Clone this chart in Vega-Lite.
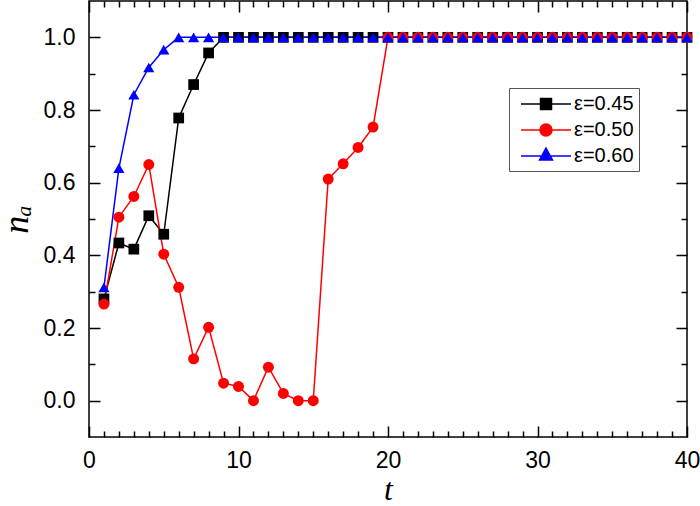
{
  "$schema": "https://vega.github.io/schema/vega-lite/v6.json",
  "width": 598,
  "height": 436,
  "autosize": {"type": "none"},
  "padding": {"left": 89, "top": 1, "right": 13, "bottom": 69},
  "config": {
    "view": {"stroke": "black", "strokeWidth": 1.5}
  },
  "data": {
    "values": [
      {"t": 1, "eps": "ε=0.45", "na": 0.28},
      {"t": 2, "eps": "ε=0.45", "na": 0.434},
      {"t": 3, "eps": "ε=0.45", "na": 0.417},
      {"t": 4, "eps": "ε=0.45", "na": 0.509},
      {"t": 5, "eps": "ε=0.45", "na": 0.458},
      {"t": 6, "eps": "ε=0.45", "na": 0.778},
      {"t": 7, "eps": "ε=0.45", "na": 0.87},
      {"t": 8, "eps": "ε=0.45", "na": 0.957},
      {"t": 9, "eps": "ε=0.45", "na": 1.0},
      {"t": 10, "eps": "ε=0.45", "na": 1.0},
      {"t": 11, "eps": "ε=0.45", "na": 1.0},
      {"t": 12, "eps": "ε=0.45", "na": 1.0},
      {"t": 13, "eps": "ε=0.45", "na": 1.0},
      {"t": 14, "eps": "ε=0.45", "na": 1.0},
      {"t": 15, "eps": "ε=0.45", "na": 1.0},
      {"t": 16, "eps": "ε=0.45", "na": 1.0},
      {"t": 17, "eps": "ε=0.45", "na": 1.0},
      {"t": 18, "eps": "ε=0.45", "na": 1.0},
      {"t": 19, "eps": "ε=0.45", "na": 1.0},
      {"t": 20, "eps": "ε=0.45", "na": 1.0},
      {"t": 21, "eps": "ε=0.45", "na": 1.0},
      {"t": 22, "eps": "ε=0.45", "na": 1.0},
      {"t": 23, "eps": "ε=0.45", "na": 1.0},
      {"t": 24, "eps": "ε=0.45", "na": 1.0},
      {"t": 25, "eps": "ε=0.45", "na": 1.0},
      {"t": 26, "eps": "ε=0.45", "na": 1.0},
      {"t": 27, "eps": "ε=0.45", "na": 1.0},
      {"t": 28, "eps": "ε=0.45", "na": 1.0},
      {"t": 29, "eps": "ε=0.45", "na": 1.0},
      {"t": 30, "eps": "ε=0.45", "na": 1.0},
      {"t": 31, "eps": "ε=0.45", "na": 1.0},
      {"t": 32, "eps": "ε=0.45", "na": 1.0},
      {"t": 33, "eps": "ε=0.45", "na": 1.0},
      {"t": 34, "eps": "ε=0.45", "na": 1.0},
      {"t": 35, "eps": "ε=0.45", "na": 1.0},
      {"t": 36, "eps": "ε=0.45", "na": 1.0},
      {"t": 37, "eps": "ε=0.45", "na": 1.0},
      {"t": 38, "eps": "ε=0.45", "na": 1.0},
      {"t": 39, "eps": "ε=0.45", "na": 1.0},
      {"t": 40, "eps": "ε=0.45", "na": 1.0},
      {"t": 1, "eps": "ε=0.50", "na": 0.266},
      {"t": 2, "eps": "ε=0.50", "na": 0.505},
      {"t": 3, "eps": "ε=0.50", "na": 0.562},
      {"t": 4, "eps": "ε=0.50", "na": 0.65},
      {"t": 5, "eps": "ε=0.50", "na": 0.403},
      {"t": 6, "eps": "ε=0.50", "na": 0.312},
      {"t": 7, "eps": "ε=0.50", "na": 0.115},
      {"t": 8, "eps": "ε=0.50", "na": 0.202},
      {"t": 9, "eps": "ε=0.50", "na": 0.048},
      {"t": 10, "eps": "ε=0.50", "na": 0.039},
      {"t": 11, "eps": "ε=0.50", "na": 0.0},
      {"t": 12, "eps": "ε=0.50", "na": 0.092},
      {"t": 13, "eps": "ε=0.50", "na": 0.02},
      {"t": 14, "eps": "ε=0.50", "na": 0.0},
      {"t": 15, "eps": "ε=0.50", "na": 0.0},
      {"t": 16, "eps": "ε=0.50", "na": 0.61},
      {"t": 17, "eps": "ε=0.50", "na": 0.652},
      {"t": 18, "eps": "ε=0.50", "na": 0.697},
      {"t": 19, "eps": "ε=0.50", "na": 0.753},
      {"t": 20, "eps": "ε=0.50", "na": 1.0},
      {"t": 21, "eps": "ε=0.50", "na": 1.0},
      {"t": 22, "eps": "ε=0.50", "na": 1.0},
      {"t": 23, "eps": "ε=0.50", "na": 1.0},
      {"t": 24, "eps": "ε=0.50", "na": 1.0},
      {"t": 25, "eps": "ε=0.50", "na": 1.0},
      {"t": 26, "eps": "ε=0.50", "na": 1.0},
      {"t": 27, "eps": "ε=0.50", "na": 1.0},
      {"t": 28, "eps": "ε=0.50", "na": 1.0},
      {"t": 29, "eps": "ε=0.50", "na": 1.0},
      {"t": 30, "eps": "ε=0.50", "na": 1.0},
      {"t": 31, "eps": "ε=0.50", "na": 1.0},
      {"t": 32, "eps": "ε=0.50", "na": 1.0},
      {"t": 33, "eps": "ε=0.50", "na": 1.0},
      {"t": 34, "eps": "ε=0.50", "na": 1.0},
      {"t": 35, "eps": "ε=0.50", "na": 1.0},
      {"t": 36, "eps": "ε=0.50", "na": 1.0},
      {"t": 37, "eps": "ε=0.50", "na": 1.0},
      {"t": 38, "eps": "ε=0.50", "na": 1.0},
      {"t": 39, "eps": "ε=0.50", "na": 1.0},
      {"t": 40, "eps": "ε=0.50", "na": 1.0},
      {"t": 1, "eps": "ε=0.60", "na": 0.312},
      {"t": 2, "eps": "ε=0.60", "na": 0.64},
      {"t": 3, "eps": "ε=0.60", "na": 0.842},
      {"t": 4, "eps": "ε=0.60", "na": 0.917},
      {"t": 5, "eps": "ε=0.60", "na": 0.966},
      {"t": 6, "eps": "ε=0.60", "na": 1.0},
      {"t": 7, "eps": "ε=0.60", "na": 1.0},
      {"t": 8, "eps": "ε=0.60", "na": 1.0},
      {"t": 9, "eps": "ε=0.60", "na": 1.0},
      {"t": 10, "eps": "ε=0.60", "na": 1.0},
      {"t": 11, "eps": "ε=0.60", "na": 1.0},
      {"t": 12, "eps": "ε=0.60", "na": 1.0},
      {"t": 13, "eps": "ε=0.60", "na": 1.0},
      {"t": 14, "eps": "ε=0.60", "na": 1.0},
      {"t": 15, "eps": "ε=0.60", "na": 1.0},
      {"t": 16, "eps": "ε=0.60", "na": 1.0},
      {"t": 17, "eps": "ε=0.60", "na": 1.0},
      {"t": 18, "eps": "ε=0.60", "na": 1.0},
      {"t": 19, "eps": "ε=0.60", "na": 1.0},
      {"t": 20, "eps": "ε=0.60", "na": 1.0},
      {"t": 21, "eps": "ε=0.60", "na": 1.0},
      {"t": 22, "eps": "ε=0.60", "na": 1.0},
      {"t": 23, "eps": "ε=0.60", "na": 1.0},
      {"t": 24, "eps": "ε=0.60", "na": 1.0},
      {"t": 25, "eps": "ε=0.60", "na": 1.0},
      {"t": 26, "eps": "ε=0.60", "na": 1.0},
      {"t": 27, "eps": "ε=0.60", "na": 1.0},
      {"t": 28, "eps": "ε=0.60", "na": 1.0},
      {"t": 29, "eps": "ε=0.60", "na": 1.0},
      {"t": 30, "eps": "ε=0.60", "na": 1.0},
      {"t": 31, "eps": "ε=0.60", "na": 1.0},
      {"t": 32, "eps": "ε=0.60", "na": 1.0},
      {"t": 33, "eps": "ε=0.60", "na": 1.0},
      {"t": 34, "eps": "ε=0.60", "na": 1.0},
      {"t": 35, "eps": "ε=0.60", "na": 1.0},
      {"t": 36, "eps": "ε=0.60", "na": 1.0},
      {"t": 37, "eps": "ε=0.60", "na": 1.0},
      {"t": 38, "eps": "ε=0.60", "na": 1.0},
      {"t": 39, "eps": "ε=0.60", "na": 1.0},
      {"t": 40, "eps": "ε=0.60", "na": 1.0}
    ]
  },
  "resolve": {
    "axis": {"x": "independent", "y": "independent"},
    "scale": {"color": "independent", "shape": "independent", "stroke": "independent", "size": "independent"},
    "legend": {"color": "independent", "shape": "independent", "stroke": "independent", "size": "independent"}
  },
  "layer": [
    {
      "mark": {"type": "line", "strokeWidth": 1.5},
      "encoding": {
        "x": {
          "field": "t", "type": "quantitative",
          "scale": {"domain": [0, 40], "nice": false, "zero": false},
          "axis": {
            "orient": "bottom", "values": [0, 10, 20, 30, 40],
            "domain": false, "ticks": false,
            "grid": true, "gridColor": "black", "gridWidth": 1.5, "gridOpacity": 1, "gridDash": [11, 414],
            "labelFont": "Liberation Sans", "labelFontSize": 23, "labelColor": "black",
            "labelOverlap": false, "labelFlush": false, "labelPadding": 12,
            "title": "t", "titleColor": "black",
            "titleFont": "Liberation Serif", "titleFontStyle": "italic", "titleFontWeight": "normal",
            "titleFontSize": 32, "titlePadding": 2
          }
        },
        "y": {
          "field": "na", "type": "quantitative",
          "scale": {"domain": [-0.1, 1.1], "nice": false, "zero": false},
          "axis": {
            "orient": "left", "values": [0, 0.2, 0.4, 0.6, 0.8, 1.0], "format": ".1f",
            "domain": false, "ticks": false,
            "grid": true, "gridColor": "black", "gridWidth": 1.5, "gridOpacity": 1, "gridDash": [11, 576],
            "labelFont": "Liberation Sans", "labelFontSize": 23, "labelColor": "black",
            "labelOverlap": false, "labelFlush": false, "labelPadding": 14,
            "title": "nₐ", "titleColor": "black",
            "titleFont": "Liberation Serif", "titleFontStyle": "italic", "titleFontWeight": "normal",
            "titleFontSize": 36, "titlePadding": 8
          }
        },
        "color": {
          "field": "eps", "type": "nominal",
          "scale": {"domain": ["ε=0.45", "ε=0.50", "ε=0.60"], "range": ["#000000", "#ff0000", "#0000ff"]},
          "legend": null
        }
      }
    },
    {
      "mark": {"type": "point", "filled": true, "opacity": 1},
      "encoding": {
        "x": {
          "field": "t", "type": "quantitative",
          "axis": {
            "orient": "bottom",
            "values": [1,2,3,4,5,6,7,8,9,11,12,13,14,15,16,17,18,19,21,22,23,24,25,26,27,28,29,31,32,33,34,35,36,37,38,39],
            "domain": false, "ticks": false, "labels": false, "title": null,
            "grid": true, "gridColor": "black", "gridWidth": 1.5, "gridOpacity": 1, "gridDash": [6, 424]
          }
        },
        "y": {
          "field": "na", "type": "quantitative",
          "axis": {
            "orient": "left", "values": [0.1, 0.3, 0.5, 0.7, 0.9],
            "domain": false, "ticks": false, "labels": false, "title": null,
            "grid": true, "gridColor": "black", "gridWidth": 1.5, "gridOpacity": 1, "gridDash": [6, 586]
          }
        },
        "color": {
          "field": "eps", "type": "nominal",
          "scale": {"domain": ["ε=0.45", "ε=0.50", "ε=0.60"], "range": ["#000000", "#ff0000", "#0000ff"]},
          "legend": null
        },
        "shape": {
          "field": "eps", "type": "nominal",
          "scale": {"domain": ["ε=0.45", "ε=0.50", "ε=0.60"], "range": ["square", "circle", "triangle-up"]},
          "legend": null
        },
        "size": {
          "field": "eps", "type": "nominal",
          "scale": {"domain": ["ε=0.45", "ε=0.50", "ε=0.60"], "range": [115, 125, 160]},
          "legend": null
        }
      }
    },
    {
      "transform": [{"filter": "false"}],
      "mark": {"type": "point", "filled": true, "strokeWidth": 1.5, "opacity": 1},
      "encoding": {
        "x": {"field": "t", "type": "quantitative", "axis": null},
        "y": {"field": "na", "type": "quantitative", "axis": null},
        "color": {
          "field": "eps", "type": "nominal",
          "scale": {"domain": ["ε=0.45", "ε=0.50", "ε=0.60"], "range": ["#000000", "#ff0000", "#0000ff"]},
          "legend": {
            "title": null, "orient": "none", "legendX": 420, "legendY": 87,
            "symbolSize": 400, "symbolStrokeWidth": 1.5,
            "labelFont": "Liberation Sans", "labelFontSize": 20, "labelColor": "black", "labelOffset": 38,
            "strokeColor": "#555555", "padding": 5, "rowPadding": 5
          }
        },
        "stroke": {
          "field": "eps", "type": "nominal",
          "scale": {"domain": ["ε=0.45", "ε=0.50", "ε=0.60"], "range": ["#000000", "#ff0000", "#0000ff"]},
          "legend": {
            "title": null, "orient": "none", "legendX": 420, "legendY": 87,
            "symbolSize": 400, "symbolStrokeWidth": 1.5,
            "labelFont": "Liberation Sans", "labelFontSize": 20, "labelColor": "black", "labelOffset": 38,
            "strokeColor": "#555555", "padding": 5, "rowPadding": 5
          }
        },
        "shape": {
          "field": "eps", "type": "nominal",
          "scale": {
            "domain": ["ε=0.45", "ε=0.50", "ε=0.60"],
            "range": [
              "M-0.4,0H4.6M1.55,-0.55H2.65V0.55H1.55Z",
              "M-0.4,0H4.6M1.5,0A0.6,0.6,0,1,1,2.7,0A0.6,0.6,0,1,1,1.5,0Z",
              "M-0.4,0H4.6M2.1,-0.8L2.75,0.4H1.45Z"
            ]
          },
          "legend": {
            "title": null, "orient": "none", "legendX": 420, "legendY": 87,
            "symbolSize": 400, "symbolStrokeWidth": 1.5,
            "labelFont": "Liberation Sans", "labelFontSize": 20, "labelColor": "black", "labelOffset": 38,
            "strokeColor": "#555555", "padding": 5, "rowPadding": 5
          }
        }
      }
    }
  ]
}
